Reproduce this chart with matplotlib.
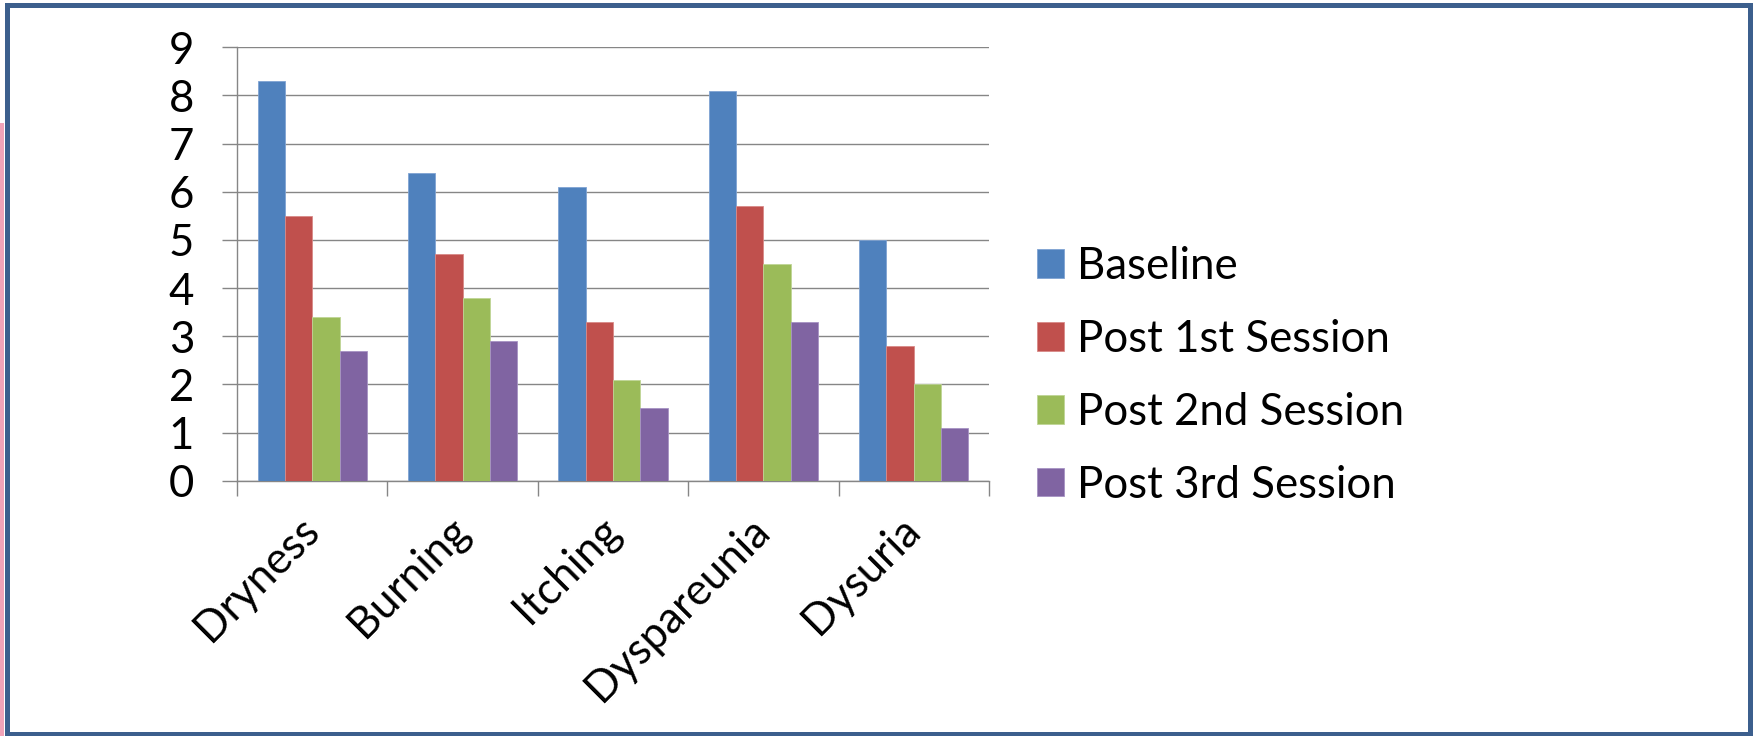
import matplotlib
matplotlib.use("Agg")
import matplotlib.pyplot as plt
import numpy as np
from matplotlib.patches import Rectangle

plt.rcParams['font.family'] = ['Lato', 'DejaVu Sans']

categories = ["Dryness", "Burning", "Itching", "Dyspareunia", "Dysuria"]
series_names = ["Baseline", "Post 1st Session", "Post 2nd Session", "Post 3rd Session"]
baseline = [8.3, 6.4, 6.1, 8.1, 5.0]
post_1st = [5.5, 4.7, 3.3, 5.7, 2.8]
post_2nd = [3.4, 3.8, 2.1, 4.5, 2.0]
post_3rd = [2.7, 2.9, 1.5, 3.3, 1.1]
y_ticks = list(range(0, 10))

series_values = [baseline, post_1st, post_2nd, post_3rd]
colors = ["#4F81BD", "#C0504D", "#9BBB59", "#8064A2"]
edge_colors = ["#7FA3D3", "#D98A88", "#BFD596", "#A792C4"]

W, H = 1754, 736
fig = plt.figure(figsize=(W / 100, H / 100), dpi=100)

# outer frame and pink strip
fig.patches.append(Rectangle((0, 0), 4 / W, (H - 123) / H, transform=fig.transFigure,
                             facecolor="#F1A3B8", edgecolor="none", zorder=0))
fig.patches.append(Rectangle((6.5 / W, 1.8 / H), (1750 - 6.5) / W, (H - 1.8 - 5) / H,
                             transform=fig.transFigure, facecolor="none",
                             edgecolor="#3C5F8D", linewidth=3.6, zorder=1))

ax = fig.add_axes([237 / W, 1 - 480.7 / H, (989 - 237) / W, (480.7 - 47.3) / H])

n_cat = len(categories)
n_ser = len(series_values)
width = 1 / (n_ser + 1.5)
centers = np.arange(n_cat) + 0.5
for j, (vals, c, ec) in enumerate(zip(series_values, colors, edge_colors)):
    ax.bar(centers + (j - (n_ser - 1) / 2) * width, vals, width=width, color=c,
           edgecolor=ec, linewidth=0.6, label=series_names[j], zorder=3)

ax.set_xlim(0, n_cat)
ax.set_ylim(0, 9)
grid_c = "#868686"
ax.set_yticks(y_ticks)
ax.set_yticklabels([str(t) for t in y_ticks], fontsize=31.5)
ax.yaxis.grid(True, color=grid_c, linewidth=1.0, zorder=0)
ax.set_axisbelow(True)

ax.set_xticks(np.arange(n_cat + 1))
ax.set_xticklabels([])
ax.set_xticks(centers, minor=True)
ax.set_xticklabels(categories, minor=True, fontsize=31.5, rotation=45,
                   ha="right", va="center", rotation_mode="anchor")
ax.tick_params(axis="x", which="minor", length=0, pad=31)
ax.tick_params(axis="x", which="major", length=10.8, width=1.0, color=grid_c)
ax.tick_params(axis="y", length=10.8, width=1.0, color=grid_c, pad=20)

for s in ["top", "right"]:
    ax.spines[s].set_visible(False)
for s in ["left", "bottom"]:
    ax.spines[s].set_color(grid_c)
    ax.spines[s].set_linewidth(1.0)

leg = ax.legend(loc="center left", bbox_to_anchor=(1.04, 0.242), frameon=False,
                fontsize=31.5, handlelength=0.62, handleheight=0.62,
                handletextpad=0.3, labelspacing=0.73, borderaxespad=0)

fig.savefig("out.png", dpi=100)
